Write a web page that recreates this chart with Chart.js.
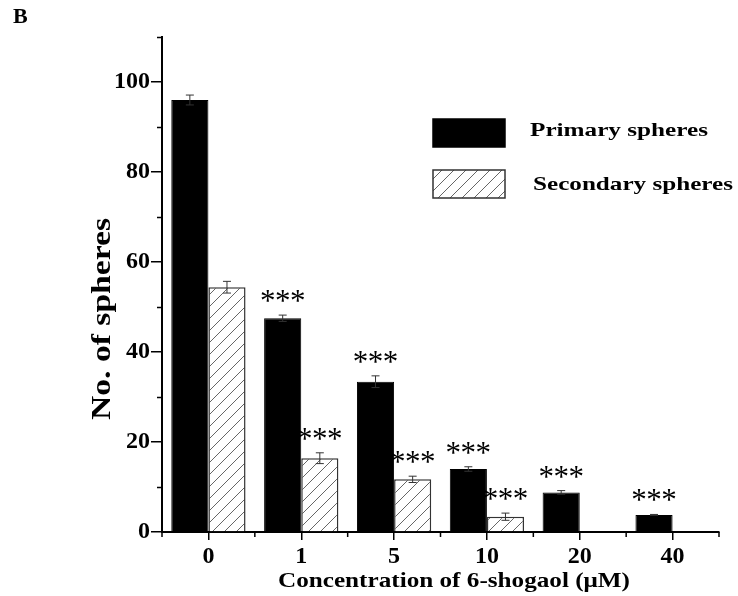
<!DOCTYPE html>
<html>
<head>
<meta charset="utf-8">
<script src="https://cdn.jsdelivr.net/npm/chart.js@4.4.0/dist/chart.umd.min.js"></script>
<style>
  body { margin: 0; background: #fff; }
</style>
</head>
<body>
<canvas id="myChart" width="738" height="596"></canvas>
<script>
// data
const categories = ['0', '1', '5', '10', '20', '40'];
const primarySpheres = [96.0, 47.5, 33.4, 14.0, 8.8, 3.8];
const primaryErr = [1.1, 0.7, 1.3, 0.5, 0.4, 0.1];
const secondarySpheres = [54.4, 16.4, 11.7, 3.4, null, null];
const secondaryErr = [1.3, 1.2, 0.7, 0.8, null, null];
const primarySig = ['', '***', '***', '***', '***', '***'];
const secondarySig = ['', '***', '***', '***', '', ''];
const yTicks = [0, 20, 40, 60, 80, 100];
const yMinorTicks = [10, 30, 50, 70, 90, 110];

const FONT = '"Liberation Serif", "Times New Roman", serif';

const canvas = document.getElementById('myChart');
const ctx = canvas.getContext('2d');

// diagonal hatch for secondary spheres
function makeHatch() {
    const c = document.createElement('canvas');
    c.width = 12;
    c.height = 12;
    const g = c.getContext('2d');
    g.fillStyle = '#fff';
    g.fillRect(0, 0, 12, 12);
    g.strokeStyle = '#666';
    g.lineWidth = 1;
    g.beginPath();
    g.moveTo(0, 12); g.lineTo(12, 0);
    g.moveTo(-6, 6); g.lineTo(6, -6);
    g.moveTo(6, 18); g.lineTo(18, 6);
    g.stroke();
    return ctx.createPattern(c, 'repeat');
}
const hatch = makeHatch();

// text squeezed/stretched to a given width (the figure's text is not square)
function fitText(c, text, x, y, width, align, rotate) {
    const w = c.measureText(text).width;
    c.save();
    c.translate(x, y);
    if (rotate) c.rotate(-Math.PI / 2);
    c.scale(width / w, 1);
    c.textAlign = align;
    c.fillText(text, 0, 0);
    c.restore();
}

const decorations = {
    id: 'decorations',
    afterDatasetsDraw(chart) {
        const c = chart.ctx;
        const yScale = chart.scales.y;
        const errs = [primaryErr, secondaryErr];
        const sigs = [primarySig, secondarySig];
        c.save();
        chart.data.datasets.forEach((ds, di) => {
            const meta = chart.getDatasetMeta(di);
            meta.data.forEach((bar, i) => {
                const v = ds.data[i];
                if (v == null) return;
                const e = errs[di][i] || 0;
                const yTop = yScale.getPixelForValue(v + e);
                const yBot = yScale.getPixelForValue(v - e);
                if (e > 0) {
                    c.strokeStyle = '#333';
                    c.lineWidth = 1;
                    c.beginPath();
                    c.moveTo(bar.x, yTop); c.lineTo(bar.x, yBot);
                    c.moveTo(bar.x - 4, yTop); c.lineTo(bar.x + 4, yTop);
                    c.moveTo(bar.x - 4, yBot); c.lineTo(bar.x + 4, yBot);
                    c.stroke();
                }
                const s = sigs[di][i];
                if (s) {
                    c.fillStyle = '#000';
                    c.font = '31px ' + FONT;
                    c.textAlign = 'center';
                    c.textBaseline = 'alphabetic';
                    for (let k = 0; k < s.length; k++) {
                        c.fillText(s[k], bar.x + (k - (s.length - 1) / 2) * 15, yTop - 4);
                    }
                }
            });
        });
        c.restore();
    },
    afterDraw(chart) {
        const c = chart.ctx;
        const x = chart.scales.x, y = chart.scales.y;
        const area = chart.chartArea;
        c.save();
        c.strokeStyle = '#000';
        c.lineWidth = 1.5;
        c.beginPath();
        // minor y ticks
        yMinorTicks.forEach(v => {
            const py = Math.round(y.getPixelForValue(v)) + 0.5;
            c.moveTo(area.left - 5, py); c.lineTo(area.left, py);
        });
        // x ticks at category boundaries
        for (let i = 0; i <= categories.length; i++) {
            const px = x.getPixelForValue(i - 0.5);
            c.moveTo(px, area.bottom); c.lineTo(px, area.bottom + 5);
        }
        c.stroke();

        c.fillStyle = '#000';
        c.textBaseline = 'alphabetic';
        // panel letter
        c.font = 'bold 22px ' + FONT;
        c.textAlign = 'left';
        c.fillText('B', 13, 23);

        // axis titles
        c.font = 'bold 28px ' + FONT;
        fitText(c, 'No. of spheres', 110, 319, 202, 'center', true);
        c.font = 'bold 22px ' + FONT;
        fitText(c, 'Concentration of 6-shogaol (\u03bcM)', 454, 587, 352, 'center', false);

        // legend
        const ds = chart.data.datasets;
        const boxes = [
            { top: 119, textX: 530, base: 136, size: 18, width: 178 },
            { top: 170, textX: 533, base: 190, size: 19, width: 200 }
        ];
        ds.forEach((d, i) => {
            const b = boxes[i];
            c.fillStyle = d.backgroundColor;
            c.fillRect(433, b.top, 72, 28);
            c.strokeStyle = d.borderColor;
            c.lineWidth = 1.5;
            c.strokeRect(433, b.top, 72, 28);
            c.fillStyle = '#000';
            c.font = 'bold ' + b.size + 'px ' + FONT;
            fitText(c, d.label, b.textX, b.base, b.width, 'left', false);
        });
        c.restore();
    }
};

function makeChart() {
    new Chart(ctx, {
        type: 'bar',
        data: {
            labels: categories,
            datasets: [
                {
                    label: 'Primary spheres',
                    data: primarySpheres,
                    backgroundColor: '#000',
                    borderColor: '#000',
                    borderWidth: 1
                },
                {
                    label: 'Secondary spheres',
                    data: secondarySpheres,
                    backgroundColor: hatch,
                    borderColor: '#333',
                    borderWidth: 1.5
                }
            ]
        },
        options: {
            responsive: false,
            animation: false,
            categoryPercentage: 0.8,
            barPercentage: 1.0,
            layout: { padding: { top: 37, right: 19, left: 0, bottom: 0 } },
            plugins: {
                legend: { display: false },
                tooltip: { enabled: false }
            },
            scales: {
                x: {
                    grid: { display: true, drawOnChartArea: false, offset: false, tickLength: 8, color: '#000', lineWidth: 1.5 },
                    border: { color: '#000', width: 2 },
                    ticks: {
                        color: '#000',
                        padding: 2,
                        maxRotation: 0,
                        font: { family: FONT, size: 24, weight: 'bold' }
                    },
                    afterFit(scale) { scale.height = 64; }
                },
                y: {
                    min: 0,
                    max: 110,
                    afterBuildTicks(scale) { scale.ticks = yTicks.map(v => ({ value: v })); },
                    grid: { display: true, drawOnChartArea: false, tickLength: 11, color: '#000', lineWidth: 1.5 },
                    border: { color: '#000', width: 2 },
                    ticks: {
                        color: '#000',
                        padding: 1,
                        font: { family: FONT, size: 24, weight: 'bold' }
                    },
                    afterFit(scale) { scale.width = 162; }
                }
            }
        },
        plugins: [decorations]
    });
}

// wait for the serif font so the first (and only) draw uses it
Promise.all([
    document.fonts.load('bold 24px "Liberation Serif"'),
    document.fonts.load('31px "Liberation Serif"')
]).then(makeChart, makeChart);
</script>
</body>
</html>
